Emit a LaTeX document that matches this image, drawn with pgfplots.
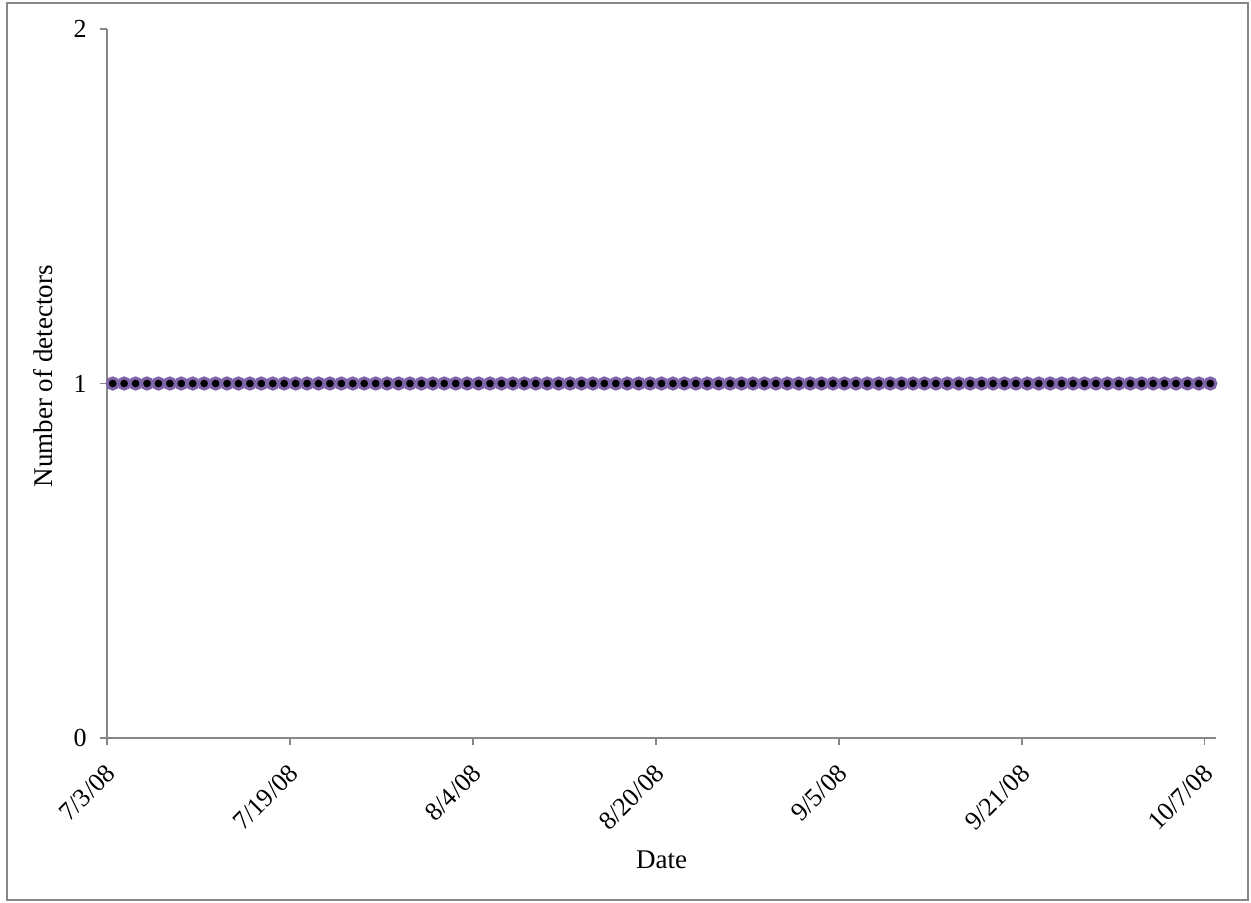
\documentclass[border=0pt]{standalone}
\usepackage{fontspec}
\setmainfont{Liberation Serif}
\usepackage{pgfplots}
\pgfplotsset{compat=1.18}
\definecolor{axgray}{RGB}{134,134,134}
\definecolor{mpurple}{RGB}{128,100,170}
\begin{document}
\begin{tikzpicture}[x=1pt,y=1pt]
\path[use as bounding box] (0,0) rectangle (625.5,451);
\draw[axgray, line width=0.9pt] (3.5,1) rectangle (624,449.5);
\begin{axis}[
  at={(53.5pt,82pt)}, anchor=origin,
  scale only axis, width=554.5pt, height=354.5pt,
  xmin=0, xmax=97, ymin=0, ymax=2,
  axis x line=bottom, axis y line=left,
  axis line style={axgray, line width=0.9pt, -},
  xtick={0,16,32,48,64,80,96},
  xticklabels={7/3/08,7/19/08,8/4/08,8/20/08,9/5/08,9/21/08,10/7/08},
  ytick={0,1,2},
  tick align=outside, major tick length=3.5pt,
  tick style={axgray, line width=0.9pt},
  /pgf/number format/assume math mode=true,
  tick label style={font=\fontsize{13}{15}\selectfont, black},
  xticklabel style={rotate=45, anchor=north east, inner sep=2pt, xshift=-5.1pt, yshift=-3.3pt},
  yticklabel style={inner sep=6.5pt},
  label style={font=\fontsize{13.5}{15}\selectfont},
  xlabel={Date},
  xlabel style={at={(axis description cs:0.5,0)}, anchor=center, yshift=-61pt},
  ylabel={Number of detectors},
  ylabel style={at={(axis description cs:0,0.51)}, anchor=center, rotate=0, yshift=32pt},
  clip=false,
]
\addplot[only marks, mark=*, mark size=2.8pt,
  mark options={fill=black, draw=mpurple, line width=1.5pt}]
coordinates {
(0.5,1)(1.5,1)(2.5,1)(3.5,1)(4.5,1)(5.5,1)(6.5,1)(7.5,1)(8.5,1)(9.5,1)
(10.5,1)(11.5,1)(12.5,1)(13.5,1)(14.5,1)(15.5,1)(16.5,1)(17.5,1)(18.5,1)(19.5,1)
(20.5,1)(21.5,1)(22.5,1)(23.5,1)(24.5,1)(25.5,1)(26.5,1)(27.5,1)(28.5,1)(29.5,1)
(30.5,1)(31.5,1)(32.5,1)(33.5,1)(34.5,1)(35.5,1)(36.5,1)(37.5,1)(38.5,1)(39.5,1)
(40.5,1)(41.5,1)(42.5,1)(43.5,1)(44.5,1)(45.5,1)(46.5,1)(47.5,1)(48.5,1)(49.5,1)
(50.5,1)(51.5,1)(52.5,1)(53.5,1)(54.5,1)(55.5,1)(56.5,1)(57.5,1)(58.5,1)(59.5,1)
(60.5,1)(61.5,1)(62.5,1)(63.5,1)(64.5,1)(65.5,1)(66.5,1)(67.5,1)(68.5,1)(69.5,1)
(70.5,1)(71.5,1)(72.5,1)(73.5,1)(74.5,1)(75.5,1)(76.5,1)(77.5,1)(78.5,1)(79.5,1)
(80.5,1)(81.5,1)(82.5,1)(83.5,1)(84.5,1)(85.5,1)(86.5,1)(87.5,1)(88.5,1)(89.5,1)
(90.5,1)(91.5,1)(92.5,1)(93.5,1)(94.5,1)(95.5,1)(96.5,1)
};
\end{axis}
\end{tikzpicture}
\end{document}
